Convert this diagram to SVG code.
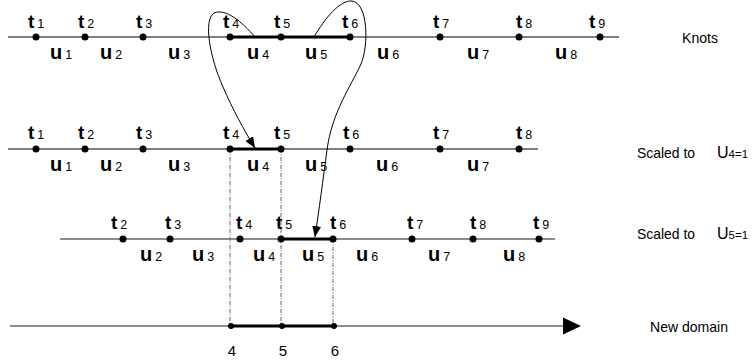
<svg xmlns="http://www.w3.org/2000/svg" width="756" height="362" viewBox="0 0 756 362">
<defs>
<style>
text{font-family:"Liberation Sans",Arial,sans-serif;fill:#000}
.b{font-weight:bold;font-size:19px}
.bu{font-weight:bold;font-size:20px}
.s{font-size:12.5px}
.lab{font-size:15px}
.big{font-size:16px}
.sm{font-size:11.5px}
.ln{stroke:#000;stroke-width:1;fill:none}
.gln{stroke:#666;stroke-width:1.3;fill:none}
.thick{stroke:#000;stroke-width:3;fill:none}
.dd{stroke:#444;stroke-width:0.8;stroke-dasharray:4,1.5,1,1.5;fill:none}
.cv{stroke:#000;stroke-width:1;fill:none}
</style>
<marker id="ah" markerUnits="userSpaceOnUse" markerWidth="12" markerHeight="9" refX="11" refY="4.5" orient="auto">
<path d="M0,0 L11,4.5 L0,9 z" fill="#000"/>
</marker>
</defs>

<g id="guides">
<line class="dd" x1="230" y1="149" x2="230" y2="326"/>
<line class="dd" x1="281" y1="149" x2="281" y2="326"/>
<line class="dd" x1="333" y1="239" x2="333" y2="326"/>
</g>

<g id="row-knots">
<line class="ln" x1="8" y1="37" x2="619" y2="37"/>
<line class="thick" x1="230" y1="37" x2="350" y2="37"/>
<g fill="#000">
<circle cx="36" cy="37" r="3.5"/><circle cx="85" cy="37" r="3.5"/><circle cx="143" cy="37" r="3.5"/>
<circle cx="230" cy="37" r="3.5"/><circle cx="281" cy="37" r="3.5"/><circle cx="350" cy="37" r="3.5"/>
<circle cx="440" cy="37" r="3.5"/><circle cx="519" cy="37" r="3.5"/><circle cx="600" cy="37" r="3.5"/>
</g>
<text x="28" y="28"><tspan class="b">t</tspan><tspan class="s" dx="3">1</tspan></text>
<text x="78" y="28"><tspan class="b">t</tspan><tspan class="s" dx="3">2</tspan></text>
<text x="136" y="28"><tspan class="b">t</tspan><tspan class="s" dx="3">3</tspan></text>
<text x="223" y="28"><tspan class="b">t</tspan><tspan class="s" dx="3">4</tspan></text>
<text x="274" y="28"><tspan class="b">t</tspan><tspan class="s" dx="3">5</tspan></text>
<text x="342" y="28"><tspan class="b">t</tspan><tspan class="s" dx="3">6</tspan></text>
<text x="433" y="28"><tspan class="b">t</tspan><tspan class="s" dx="3">7</tspan></text>
<text x="516" y="28"><tspan class="b">t</tspan><tspan class="s" dx="3">8</tspan></text>
<text x="589" y="28"><tspan class="b">t</tspan><tspan class="s" dx="3">9</tspan></text>
<text x="50" y="59"><tspan class="bu">u</tspan><tspan class="s" dx="3">1</tspan></text>
<text x="100" y="59"><tspan class="bu">u</tspan><tspan class="s" dx="3">2</tspan></text>
<text x="168" y="59"><tspan class="bu">u</tspan><tspan class="s" dx="3">3</tspan></text>
<text x="247" y="59"><tspan class="bu">u</tspan><tspan class="s" dx="3">4</tspan></text>
<text x="305" y="59"><tspan class="bu">u</tspan><tspan class="s" dx="3">5</tspan></text>
<text x="377" y="59"><tspan class="bu">u</tspan><tspan class="s" dx="3">6</tspan></text>
<text x="467" y="59"><tspan class="bu">u</tspan><tspan class="s" dx="3">7</tspan></text>
<text x="555" y="59"><tspan class="bu">u</tspan><tspan class="s" dx="3">8</tspan></text>
<text class="lab" x="682" y="43" textLength="36" lengthAdjust="spacingAndGlyphs">Knots</text>
</g>

<g id="row-scaled-u4">
<line class="ln" x1="8" y1="149" x2="538" y2="149"/>
<line class="thick" x1="230" y1="149" x2="281" y2="149"/>
<g fill="#000">
<circle cx="36" cy="149" r="3.5"/><circle cx="85" cy="149" r="3.5"/><circle cx="143" cy="149" r="3.5"/>
<circle cx="230" cy="149" r="3.5"/><circle cx="281" cy="149" r="3.5"/><circle cx="350" cy="149" r="3.5"/>
<circle cx="440" cy="149" r="3.5"/><circle cx="519" cy="149" r="3.5"/>
</g>
<text x="28" y="139"><tspan class="b">t</tspan><tspan class="s" dx="3">1</tspan></text>
<text x="78" y="139"><tspan class="b">t</tspan><tspan class="s" dx="3">2</tspan></text>
<text x="136" y="139"><tspan class="b">t</tspan><tspan class="s" dx="3">3</tspan></text>
<text x="223" y="139"><tspan class="b">t</tspan><tspan class="s" dx="3">4</tspan></text>
<text x="274" y="139"><tspan class="b">t</tspan><tspan class="s" dx="3">5</tspan></text>
<text x="343" y="139"><tspan class="b">t</tspan><tspan class="s" dx="3">6</tspan></text>
<text x="433" y="139"><tspan class="b">t</tspan><tspan class="s" dx="3">7</tspan></text>
<text x="516" y="139"><tspan class="b">t</tspan><tspan class="s" dx="3">8</tspan></text>
<text x="50" y="171"><tspan class="bu">u</tspan><tspan class="s" dx="3">1</tspan></text>
<text x="100" y="171"><tspan class="bu">u</tspan><tspan class="s" dx="3">2</tspan></text>
<text x="168" y="171"><tspan class="bu">u</tspan><tspan class="s" dx="3">3</tspan></text>
<text x="247" y="171"><tspan class="bu">u</tspan><tspan class="s" dx="3">4</tspan></text>
<text x="305" y="171"><tspan class="bu">u</tspan><tspan class="s" dx="3">5</tspan></text>
<text x="376" y="171"><tspan class="bu">u</tspan><tspan class="s" dx="3">6</tspan></text>
<text x="467" y="171"><tspan class="bu">u</tspan><tspan class="s" dx="3">7</tspan></text>
<text class="lab" x="637" y="158" textLength="58" lengthAdjust="spacingAndGlyphs">Scaled to</text>
<text x="717" y="158"><tspan class="big">U</tspan><tspan class="sm">4=1</tspan></text>
</g>

<g id="row-scaled-u5">
<line class="gln" x1="60" y1="239" x2="555" y2="239"/>
<line class="thick" x1="281" y1="239" x2="333" y2="239"/>
<g fill="#000">
<circle cx="123" cy="239" r="3.5"/><circle cx="170" cy="239" r="3.5"/><circle cx="240" cy="239" r="3.5"/>
<circle cx="281" cy="239" r="3.5"/><circle cx="333" cy="239" r="3.5"/><circle cx="412" cy="239" r="3.5"/>
<circle cx="473" cy="239" r="3.5"/><circle cx="539" cy="239" r="3.5"/>
</g>
<text x="111" y="229"><tspan class="b">t</tspan><tspan class="s" dx="3">2</tspan></text>
<text x="165" y="229"><tspan class="b">t</tspan><tspan class="s" dx="3">3</tspan></text>
<text x="236" y="229"><tspan class="b">t</tspan><tspan class="s" dx="3">4</tspan></text>
<text x="276" y="229"><tspan class="b">t</tspan><tspan class="s" dx="3">5</tspan></text>
<text x="330" y="229"><tspan class="b">t</tspan><tspan class="s" dx="3">6</tspan></text>
<text x="407" y="229"><tspan class="b">t</tspan><tspan class="s" dx="3">7</tspan></text>
<text x="470" y="229"><tspan class="b">t</tspan><tspan class="s" dx="3">8</tspan></text>
<text x="533" y="229"><tspan class="b">t</tspan><tspan class="s" dx="3">9</tspan></text>
<text x="140" y="261"><tspan class="bu">u</tspan><tspan class="s" dx="3">2</tspan></text>
<text x="192" y="261"><tspan class="bu">u</tspan><tspan class="s" dx="3">3</tspan></text>
<text x="253" y="261"><tspan class="bu">u</tspan><tspan class="s" dx="3">4</tspan></text>
<text x="302" y="261"><tspan class="bu">u</tspan><tspan class="s" dx="3">5</tspan></text>
<text x="356" y="261"><tspan class="bu">u</tspan><tspan class="s" dx="3">6</tspan></text>
<text x="428" y="261"><tspan class="bu">u</tspan><tspan class="s" dx="3">7</tspan></text>
<text x="503" y="261"><tspan class="bu">u</tspan><tspan class="s" dx="3">8</tspan></text>
<text class="lab" x="637" y="239" textLength="58" lengthAdjust="spacingAndGlyphs">Scaled to</text>
<text x="717" y="239"><tspan class="big">U</tspan><tspan class="sm">5=1</tspan></text>
</g>

<g id="row-new-domain">
<line class="gln" x1="10" y1="326" x2="564" y2="326"/>
<polygon points="563,317.5 581,326 563,334.5" fill="#000"/>
<line class="thick" x1="231" y1="326" x2="334" y2="326"/>
<g fill="#000">
<circle cx="231" cy="326" r="3"/><circle cx="282" cy="326" r="3"/><circle cx="334" cy="326" r="3"/>
</g>
<text class="lab" x="232" y="356" text-anchor="middle">4</text>
<text class="lab" x="283" y="356" text-anchor="middle">5</text>
<text class="lab" x="335" y="356" text-anchor="middle">6</text>
<text class="lab" x="650" y="332" textLength="78" lengthAdjust="spacingAndGlyphs">New domain</text>
</g>

<g id="connectors">
<path class="cv" d="M255,37 C242,22 226,8 214,13 C203,20 210,58 223,87 C233,110 244,130 255,148" marker-end="url(#ah)"/>
<path class="cv" d="M314,37 C325,18 340,0 352,1 C368,3 369,45 361,64 C351,86 332,112 327,150 C323,180 319,210 315,237" marker-end="url(#ah)"/>
</g>
</svg>
